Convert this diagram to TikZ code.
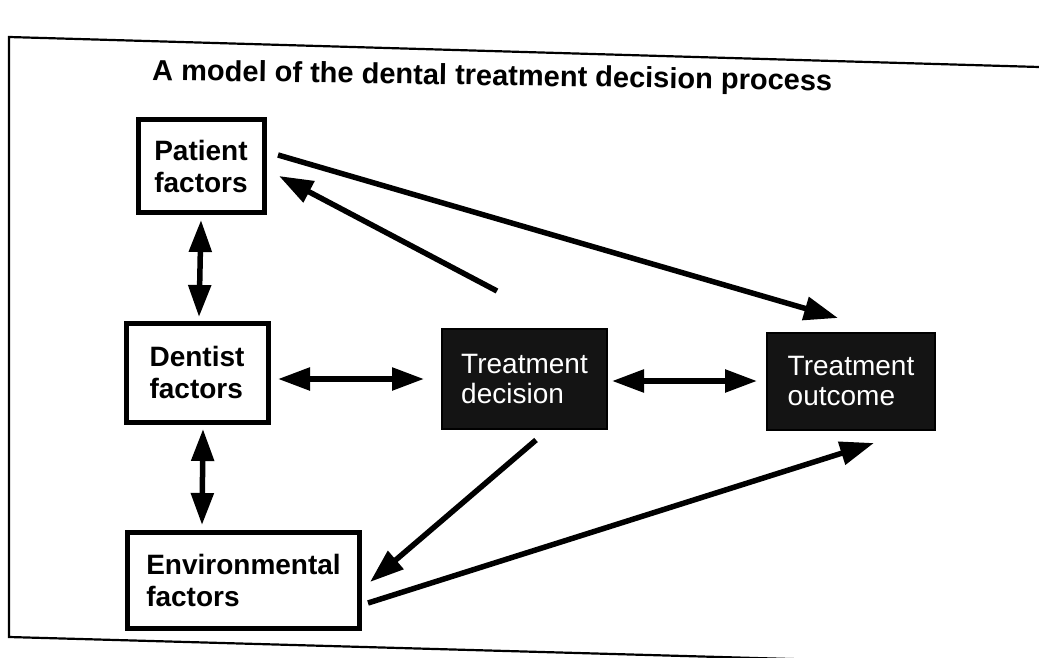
\documentclass[tikz,border=0pt]{standalone}
\usepackage{fontspec}
\setmainfont{Liberation Sans}
\usetikzlibrary{arrows.meta}
\begin{document}
\begin{tikzpicture}[x=1pt,y=-1pt,
  wbox/.style={draw=black,line width=5pt,fill=white,inner sep=0pt,
    font=\fontsize{28}{32}\selectfont\bfseries,align=left},
  bbox/.style={draw=black,line width=2pt,fill=black!92,text=white,inner sep=0pt,
    font=\fontsize{28}{30}\selectfont,align=left},
  arr/.style={line width=5.5pt,-{Triangle[length=34pt,width=23pt]}},
  darr/.style={line width=5.5pt,{Triangle[length=32pt,width=22pt]}-{Triangle[length=32pt,width=22pt]}},
  frame/.style={line width=2.2pt}]
\useasboundingbox (0,0) rectangle (1039,658);
\clip (0,0) rectangle (1039,658);
\fill[white] (0,0) rectangle (1039,658);
% frame
\coordinate (ftl) at (9,37);
\coordinate (ftr) at (1039,67);
\coordinate (fbl) at (9,637);
\coordinate (fbr) at (1039,666);
\draw[frame] (ftr) -- (ftl) -- (fbl) -- (fbr);
% title
\node[font=\fontsize{29}{33}\selectfont\bfseries,rotate=-0.9,anchor=base west,inner sep=0pt] (title) at (152,80) {A model of the dental treatment decision process};
% boxes
\node[wbox,minimum width=126pt,minimum height=92pt] (pat) at (201,166) {Patient\\factors};
\node[wbox,minimum width=142pt,minimum height=99pt] (den) at (197,372.5) {Dentist\\factors};
\node[wbox,minimum width=232pt,minimum height=96pt] (env) at (243.5,580) {Environmental\\factors};
\node[bbox,minimum width=165pt,minimum height=100pt] (dec) at (524.5,379) {Treatment\\decision};
\node[bbox,minimum width=168pt,minimum height=97pt] (out) at (851,381.5) {Treatment\\outcome};
% anchors for connectors
\coordinate (p1) at (278,155);
\coordinate (o1) at (838,318);
\coordinate (d1) at (497,291);
\coordinate (p2) at (279,176);
\coordinate (p3) at (201,220);
\coordinate (dn1) at (199,317);
\coordinate (dn2) at (278,379);
\coordinate (dc1) at (424,379);
\coordinate (dc2) at (612,381);
\coordinate (o2) at (757,381);
\coordinate (dn3) at (203,429);
\coordinate (e1) at (202,525);
\coordinate (dc3) at (536,440);
\coordinate (e2) at (370,582);
\coordinate (e3) at (368,603);
\coordinate (o3) at (874,443);
% connectors
\draw[arr] (p1) -- (o1);
\draw[arr] (d1) -- (p2);
\draw[darr] (p3) -- (dn1);
\draw[darr] (dn2) -- (dc1);
\draw[darr] (dc2) -- (o2);
\draw[darr] (dn3) -- (e1);
\draw[arr] (dc3) -- (e2);
\draw[arr] (e3) -- (o3);
\end{tikzpicture}
\end{document}
